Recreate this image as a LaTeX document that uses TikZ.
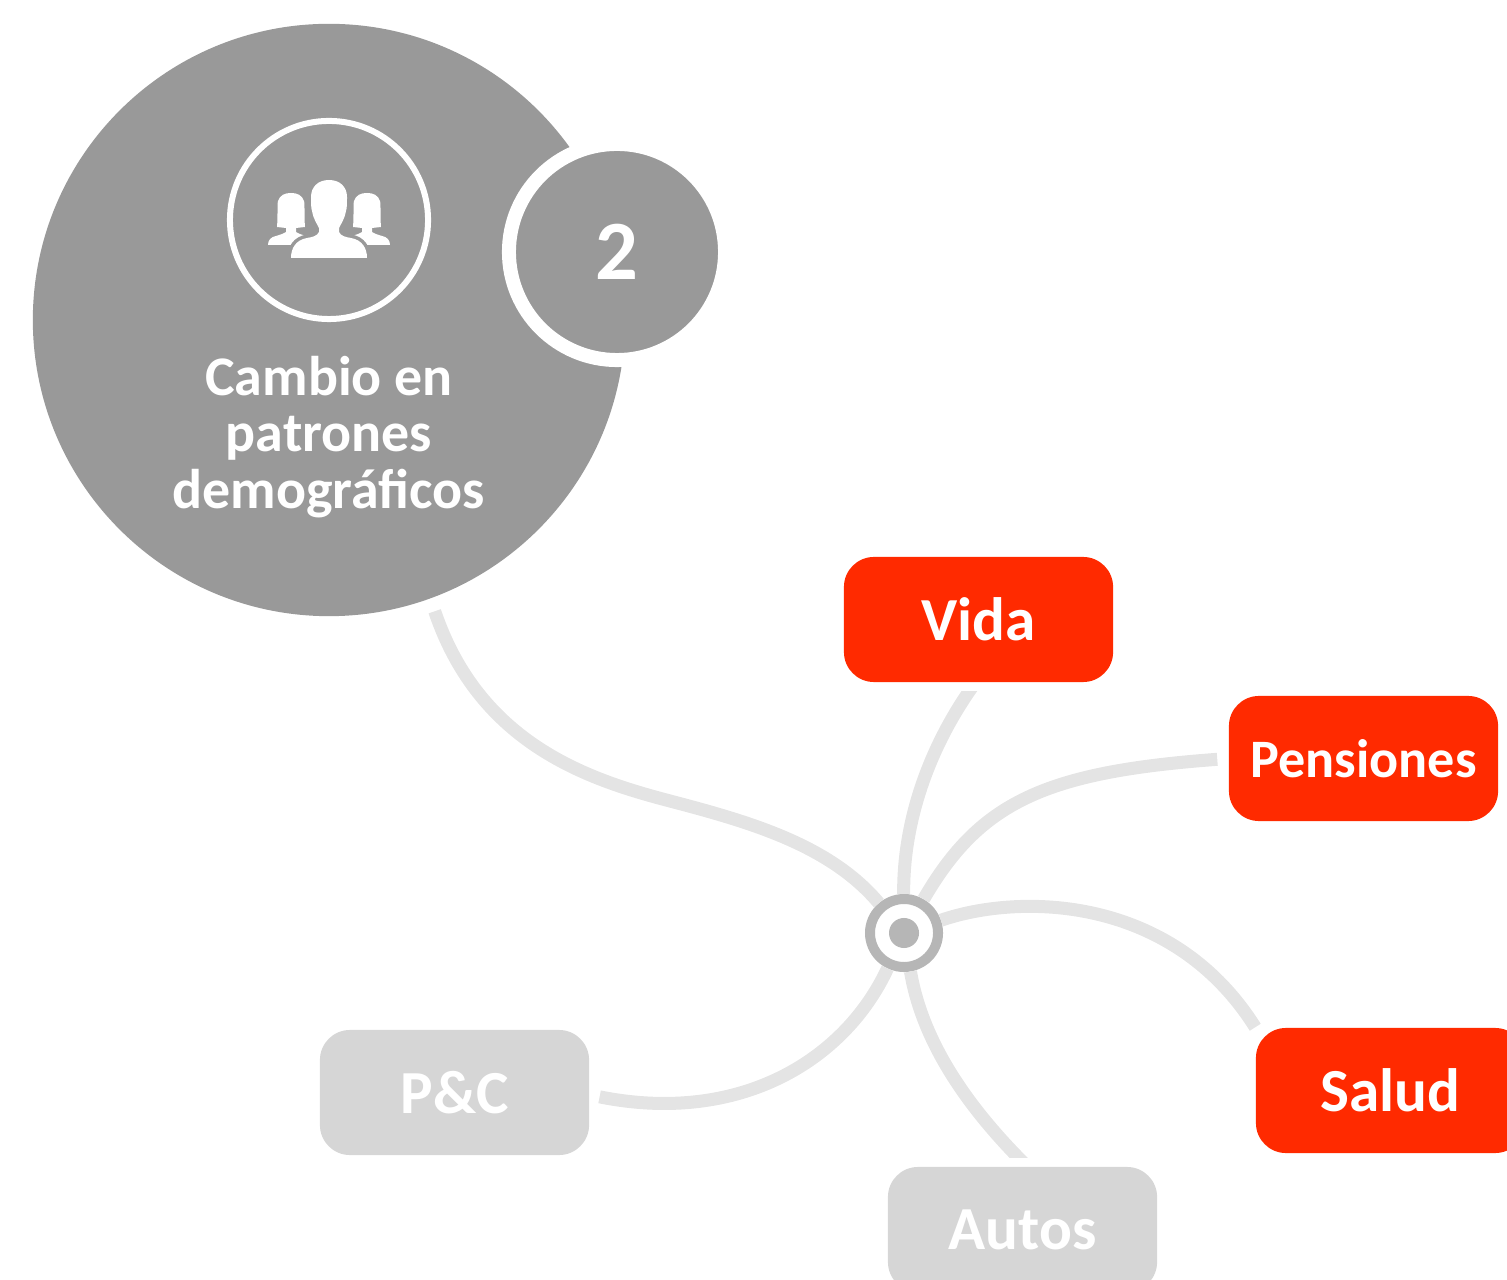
\documentclass[tikz,border=0pt]{standalone}
\usepackage{fontspec}
\setmainfont{Carlito}
\usetikzlibrary{positioning}
\definecolor{circlegray}{HTML}{999999}
\definecolor{branchred}{HTML}{FF2A00}
\definecolor{branchgray}{HTML}{D6D6D6}
\definecolor{linkgray}{HTML}{E4E4E4}
\definecolor{hubgray}{HTML}{B6B6B6}
\tikzset{
  disc/.style={circle, fill=circlegray, inner sep=0pt},
  branch/.style={rectangle, rounded corners=0.3cm, minimum width=2.69cm, minimum height=1.25cm,
    inner sep=0pt, text=white, font=\fontsize{17.4}{20}\selectfont\bfseries},
  link/.style={draw=linkgray, line width=0.13cm},
}
\begin{document}
\begin{tikzpicture}[x=0.01cm, y=-0.01cm]
            \useasboundingbox (0,0) rectangle (1507,1280);
            \clip (0,0) rectangle (1507,1280);
            % circles
            \node[disc, minimum size=5.92cm] (cambio) at (329,320) {};
            \node[disc, draw=white, line width=0.14cm, minimum size=2.16cm, text=white,
                  font=\fontsize{24}{28}\selectfont\bfseries] (num) at (617,252) {2};
            \node[circle, draw=white, line width=0.06cm, minimum size=1.98cm, inner sep=0pt] (iconring) at (329,220) {};
            \node[align=center, text=white, inner sep=0pt, font=\fontsize{15.9}{16}\selectfont\bfseries] (cambiotext) at (329,437)
                {Cambio en\\patrones\\demográficos};
            % people icon
            \foreach \womanx in {291,367} {
                \begin{scope}[xshift=\womanx*0.01cm]
                    \fill[white] (-14,227) .. controls (-13,215) and (-14,205) .. (-13,201)
                        .. controls (-11,195) and (-6,193) .. (0,193)
                        .. controls (6,193) and (11,195) .. (13,201)
                        .. controls (14,205) and (13,215) .. (14,227)
                        -- (5,228) -- (5,232)
                        .. controls (8,234) and (12,235) .. (15,236)
                        .. controls (20,237) and (23,240) .. (23,245)
                        -- (-23,245) .. controls (-23,240) and (-20,237) .. (-15,236)
                        .. controls (-12,235) and (-8,234) .. (-5,232)
                        -- (-5,228) -- cycle;
                \end{scope}
            }
            \fill[white, preaction={draw=circlegray, line width=0.07cm}] (329,180)
                .. controls (340,180) and (347,187) .. (347,197)
                .. controls (347,203) and (347,208) .. (346,211)
                .. controls (345,218) and (341,224) .. (339,228)
                -- (339,232) .. controls (341,236) and (345,237) .. (351,238)
                .. controls (362,240) and (367,248) .. (367,258)
                -- (291,258) .. controls (291,248) and (296,240) .. (307,238)
                .. controls (313,237) and (317,236) .. (319,232)
                -- (319,228) .. controls (317,224) and (313,218) .. (312,211)
                .. controls (311,208) and (311,203) .. (311,197)
                .. controls (311,187) and (318,180) .. (329,180) -- cycle;
            % branches
            \node[branch, fill=branchred] (vida) at (978.5,619.5) {Vida};
            \node[branch, fill=branchred, font=\fontsize{15.4}{18}\selectfont\bfseries] (pensiones) at (1363.5,758.5) {Pensiones};
            \node[branch, fill=branchred] (salud) at (1390.5,1090.5) {Salud};
            \node[branch, fill=branchgray] (pc) at (454.5,1092.5) {P\&C};
            \node[branch, fill=branchgray] (autos) at (1022.5,1229.5) {Autos};
            % hub
            \node[circle, draw=hubgray, fill=white, line width=0.10cm, minimum size=0.68cm, inner sep=0pt] (hub) at (904,933) {};
            \node[circle, fill=hubgray, minimum size=0.30cm, inner sep=0pt] (hubdot) at (hub) {};
            % links
            \draw[link, shorten >=0.13cm] (hub) .. controls (830,845) and (750,822) .. (670,801)
                .. controls (590,780) and (480,745) .. (cambio.-70.5);
            \begin{scope}
                \clip (0,692) rectangle (1507,1157);
                \draw[link] (hub) .. controls (903,820) and (930,745) .. (vida.267);
                \draw[link] (hub) .. controls (922,1040) and (965,1105) .. (autos.86);
            \end{scope}
            \draw[link, shorten >=0.11cm] (hub) .. controls (980,802) and (1045,772) .. (pensiones.west);
            \draw[link] (hub) .. controls (1020,893) and (1172,895) .. (salud.north west);
            \draw[link, shorten >=0.10cm] (hub) .. controls (845,1060) and (740,1125) .. (pc.-1);
        \end{tikzpicture}
\end{document}
